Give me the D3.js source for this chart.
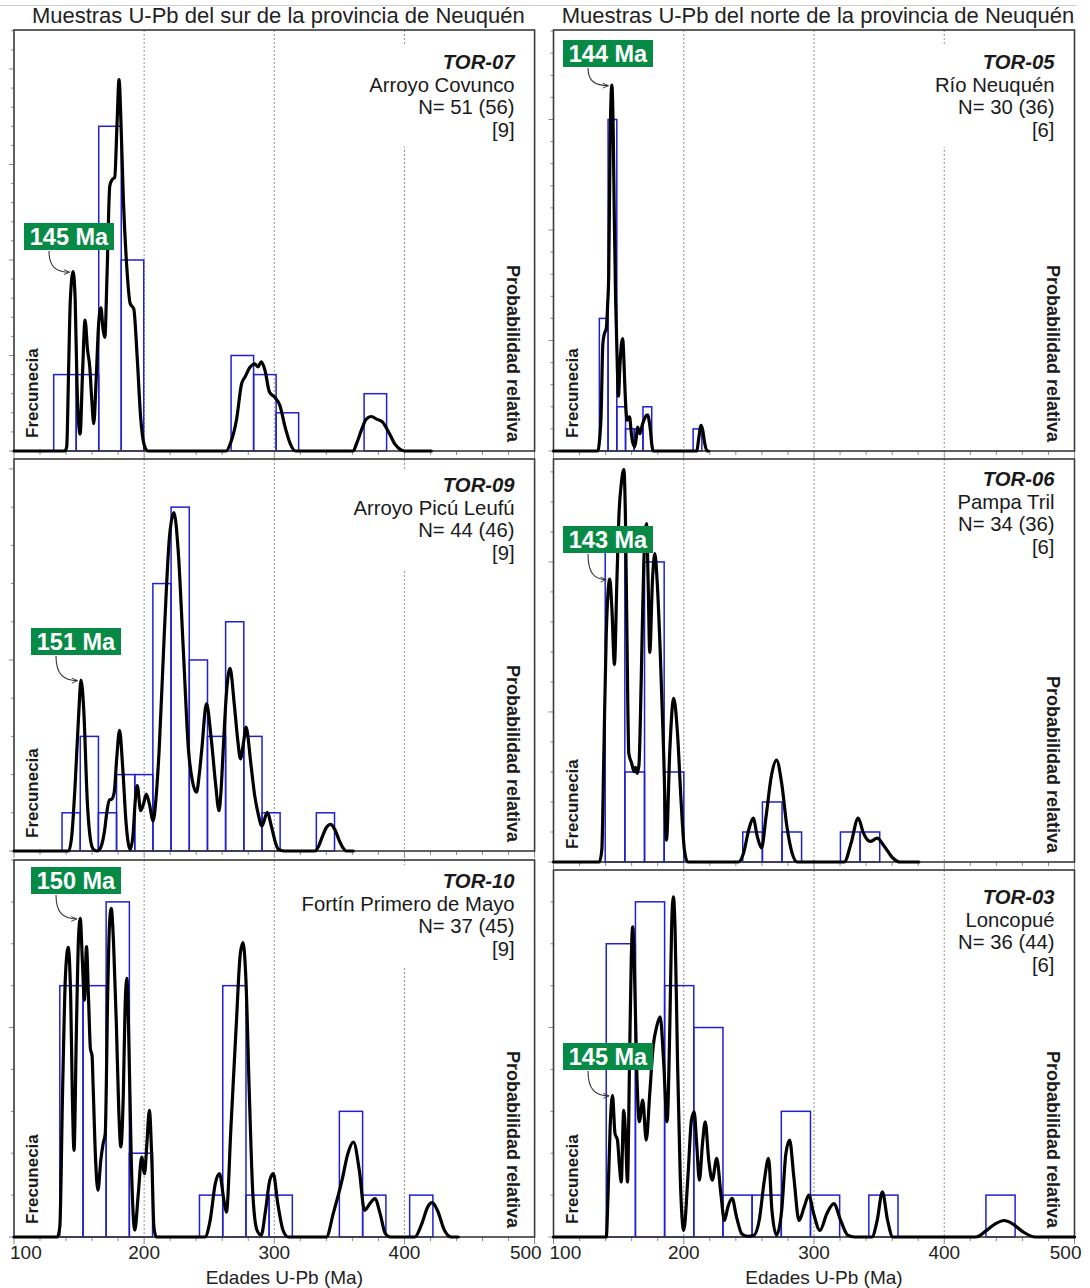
<!DOCTYPE html>
<html><head><meta charset="utf-8">
<script src="https://cdn.jsdelivr.net/npm/d3@7"></script>
<style>
body{margin:0;background:#fff}
svg{display:block}
text{font-family:"Liberation Sans",Arial,Helvetica,sans-serif}
</style>
</head><body>
<svg id="c" width="1090" height="1288"></svg>
<script>
// ---------------- DATA ----------------
const columnTitles = ["Muestras U-Pb del sur de la provincia de Neuquén", "Muestras U-Pb del norte de la provincia de Neuquén"];
const sampleIds = ["TOR-07", "TOR-05", "TOR-09", "TOR-06", "TOR-10", "TOR-03"];
const localities = ["Arroyo Covunco", "Río Neuquén", "Arroyo Picú Leufú", "Pampa Tril", "Fortín Primero de Mayo", "Loncopué"];
const nTexts = ["N= 51 (56)", "N= 30 (36)", "N= 44 (46)", "N= 34 (36)", "N= 37 (45)", "N= 36 (44)"];
const refTexts = ["[9]", "[6]", "[9]", "[6]", "[9]", "[6]"];
const peakAges = [145, 144, 151, 143, 150, 145];
const xTickValues = [100, 200, 300, 400, 500];
const gridAges = [200, 300, 400];
const xAxisTitle = "Edades U-Pb (Ma)";
const yLeftTitle = "Frecunecia";
const yRightTitle = "Probabilidad relativa";

// histogram bins (left edge in Ma), counts and bin width per sample
const tor07BinStart = [130.5, 147.8, 165.1, 182.4, 266.8, 284.1, 301.4, 369.0];
const tor07BinCount = [4, 4, 17, 10, 5, 4, 2, 3];
const tor05BinStart = [135.2, 141.9, 148.6, 155.3, 162.0, 168.7, 207.2];
const tor05BinCount = [6, 15, 2, 1, 1, 2, 1];
const tor09BinStart = [136.9, 150.9, 164.8, 178.8, 192.8, 206.7, 220.7, 234.7, 248.6, 262.6, 276.6, 290.5, 332.3];
const tor09BinCount = [1, 3, 1, 2, 2, 7, 9, 5, 3, 6, 3, 1, 1];
const tor06BinStart = [139.7, 154.8, 169.9, 185.0, 245.3, 260.4, 275.4, 320.3, 335.4];
const tor06BinCount = [11, 3, 10, 3, 1, 2, 1, 1, 1];
const tor10BinStart = [135.2, 153.0, 170.8, 188.6, 242.5, 260.4, 278.2, 296.0, 350.0, 367.9, 404.0];
const tor10BinCount = [6, 6, 8, 2, 1, 6, 1, 1, 3, 1, 1];
const tor03BinStart = [140.5, 162.9, 185.3, 207.7, 230.1, 252.5, 274.9, 297.3, 342.1, 432.0];
const tor03BinCount = [7, 8, 6, 5, 1, 1, 3, 1, 1, 1];
const binWidths = [17.3, 6.7, 13.97, 15.07, 17.85, 22.4];

// probability density curves: [age Ma, relative probability]
const tor07Curve = [[100,0],[139,0],[140.5,0.01],[142,0.2],[143.3,0.36],[145.4,0.426],[147,0.36],[148.4,0.16],[150.8,0.04],[152.6,0.18],[154.6,0.311],[156.5,0.24],[158.2,0.2],[159.6,0.13],[161.3,0.065],[163,0.16],[165,0.3],[166.8,0.34],[168.4,0.29],[169.8,0.27],[171.5,0.42],[173.6,0.63],[175.5,0.645],[177.4,0.65],[179.2,0.78],[180.7,0.882],[182.4,0.76],[184,0.6],[186.6,0.44],[189.3,0.35],[192,0.338],[194.7,0.22],[197.3,0.08],[200,0.015],[203,0],
[263,0],[266.5,0.02],[270.9,0.073],[274.9,0.16],[277.5,0.176],[281.6,0.2],[285,0.207],[287.4,0.2],[290.1,0.212],[292.8,0.192],[296.3,0.14],[300.3,0.128],[304.3,0.108],[308.3,0.057],[312.3,0.017],[316.3,0],
[360.5,0],[363.5,0.02],[367,0.05],[370.5,0.075],[374.5,0.082],[379,0.075],[383,0.069],[388.5,0.041],[393,0.015],[397,0.003],[400,0],[420.6,0]];
const tor05Curve = [[100,0],[134,0],[135.5,0.03],[136.5,0.081],[137.9,0.255],[139.2,0.28],[140.5,0.29],[141.6,0.35],[142.4,0.42],[143.4,0.72],[144.8,0.869],[145.9,0.75],[146.7,0.55],[147.7,0.36],[149,0.2],[149.9,0.13],[150.8,0.19],[152,0.25],[153.1,0.267],[154,0.22],[154.7,0.16],[155.6,0.1],[156.5,0.073],[157.5,0.08],[158.4,0.081],[159.5,0.05],[160.5,0.025],[162.3,0.01],[163.5,0.03],[164.5,0.057],[165.5,0.05],[166.4,0.041],[168,0.06],[169.9,0.077],[171.5,0.085],[172.5,0.085],[173.5,0.07],[174.4,0.05],[175.5,0.015],[176.5,0],
[210,0],[211.5,0.03],[213.3,0.061],[214.5,0.05],[216,0.02],[217.9,0],[219,0]];
const tor09Curve = [[100,0],[142,0],[144.5,0.043],[147,0.171],[149.6,0.342],[151.5,0.436],[153.6,0.359],[156.3,0.128],[158.9,0.026],[161,0.004],[163.5,0],[165.5,0.003],[167.5,0.017],[169.5,0.05],[171.5,0.103],[173.3,0.13],[175,0.132],[177,0.15],[179,0.24],[181.1,0.308],[183.5,0.214],[186.2,0.068],[189.3,0.004],[191.5,0.043],[193.2,0.13],[194.7,0.167],[197.3,0.103],[199.5,0.12],[201.6,0.145],[204,0.12],[206.9,0.077],[209,0.13],[211.5,0.256],[215.5,0.556],[219.5,0.803],[222.9,0.863],[226.1,0.769],[230.1,0.513],[234.1,0.256],[237,0.18],[240.2,0.15],[242.5,0.2],[244.2,0.256],[247.9,0.376],[251.4,0.291],[254.9,0.171],[257.5,0.103],[259,0.15],[260.7,0.256],[263.4,0.41],[266,0.466],[269.2,0.376],[272,0.28],[274,0.235],[276.5,0.28],[278.3,0.316],[282,0.222],[285,0.14],[287.4,0.098],[290.5,0.064],[294.5,0.098],[298,0.06],[301,0.02],[303.3,0.004],[307.3,0],
[331.3,0],[334,0.012],[336.6,0.034],[340,0.06],[343.3,0.068],[346.5,0.055],[350,0.026],[353,0.007],[355.3,0],[360.7,0]];
const tor06Curve = [[100,0],[135.2,0],[137.1,0.03],[138.7,0.278],[140.5,0.566],[143.2,0.702],[144.8,0.63],[146.8,0.49],[148.6,0.69],[150.4,0.871],[152,0.937],[154,0.974],[155.2,0.86],[156.4,0.56],[157.8,0.27],[160,0.245],[161.9,0.224],[163,0.235],[164.2,0.22],[165.6,0.24],[167.4,0.46],[169.3,0.74],[171.4,0.84],[172.7,0.69],[173.9,0.52],[176,0.7],[177.8,0.765],[179.7,0.69],[181.9,0.525],[184.5,0.278],[186.7,0.054],[189.3,0.278],[192.3,0.406],[195.2,0.319],[197.9,0.154],[200.5,0.03],[203,0],
[241.9,0],[245.9,0.022],[249.9,0.08],[253.3,0.109],[256.5,0.063],[259.7,0.035],[263.2,0.113],[267.2,0.212],[271.2,0.253],[275.2,0.195],[279.2,0.088],[283.2,0.022],[287.2,0],
[323.2,0],[328.5,0.047],[333.9,0.109],[337.9,0.072],[343.2,0.051],[348.5,0.059],[353.9,0.039],[360.5,0.01],[365.9,0],[380.5,0]];
const tor10Curve = [[100,0],[133.3,0],[135.2,0.027],[137.3,0.381],[139.5,0.69],[141.6,0.768],[143.5,0.646],[144.8,0.381],[146.1,0.23],[148,0.558],[149.6,0.796],[150.9,0.845],[152.5,0.735],[154.1,0.628],[155.7,0.77],[157.3,0.628],[158.7,0.5],[160,0.48],[160.8,0.4],[162.7,0.204],[164.5,0.124],[166.7,0.204],[168.5,0.248],[170.1,0.274],[172,0.646],[173.3,0.823],[174.7,0.872],[176.5,0.779],[178.7,0.558],[180.5,0.336],[182.1,0.239],[184,0.381],[185.3,0.602],[186.7,0.686],[188,0.558],[190.1,0.204],[192.8,0.018],[195.5,0.115],[198.1,0.212],[200.3,0.168],[202.1,0.248],[204,0.336],[205.9,0.204],[207.5,0.027],[209.3,0],
[246.7,0],[250.7,0.044],[254.7,0.142],[257.9,0.168],[261.3,0.097],[263.2,0.066],[266.7,0.292],[270.7,0.558],[273.9,0.752],[276,0.781],[278.1,0.69],[280.8,0.381],[283.5,0.115],[286.7,0.018],[289.9,0.005],[293.3,0.071],[296.5,0.15],[299.2,0.168],[302.7,0.088],[306.7,0.018],[310.7,0],
[340,0],[345.3,0.062],[352,0.15],[356.5,0.221],[360.8,0.252],[365.3,0.177],[369.3,0.071],[373.3,0.088],[377.3,0.102],[381.3,0.062],[385.3,0.009],[389.3,0],
[408,0],[413.3,0.035],[417.9,0.08],[421.3,0.091],[425.3,0.071],[430.7,0.018],[436,0],[441.3,0]];
const tor03Curve = [[100,0],[140.5,0],[141.9,0.118],[143.5,0.3],[145.3,0.386],[147.2,0.282],[149.1,0.264],[150.7,0.191],[152,0.15],[153.9,0.345],[155.3,0.28],[156.8,0.15],[158.4,0.482],[159.7,0.755],[160.8,0.845],[162.1,0.736],[163.7,0.482],[165.9,0.314],[168.5,0.373],[171.2,0.264],[173.9,0.391],[176.5,0.518],[179.2,0.573],[181.9,0.6],[184.5,0.482],[187.2,0.314],[189.3,0.573],[190.7,0.845],[192,0.927],[193.3,0.845],[195.2,0.482],[197.3,0.164],[200,0.018],[203.2,0.164],[205.9,0.318],[208,0.341],[209.9,0.255],[212,0.155],[214.4,0.255],[216.5,0.314],[219.2,0.209],[221.9,0.155],[225.3,0.214],[228.5,0.118],[231.2,0.045],[233.9,0.082],[237.1,0.105],[240.5,0.055],[244.5,0.009],[249,0.002],[253.9,0.005],[257.9,0.045],[261.9,0.155],[265.1,0.214],[267.7,0.073],[271.2,0.005],[275.2,0.073],[278.4,0.227],[281.3,0.264],[284.5,0.164],[288.5,0.045],[292.5,0.082],[296,0.114],[299.7,0.064],[304.5,0.018],[309.9,0.064],[315.2,0.091],[320.5,0.045],[325.9,0.005],[331.2,0],
[344.5,0],[348.5,0.045],[352.5,0.123],[356.5,0.045],[360.5,0],
[424.5,0],[432.5,0.018],[439.2,0.036],[445.9,0.045],[452.5,0.036],[460.5,0.014],[469.9,0],[500,0]];

const binStarts = [tor07BinStart, tor05BinStart, tor09BinStart, tor06BinStart, tor10BinStart, tor03BinStart];
const binCounts = [tor07BinCount, tor05BinCount, tor09BinCount, tor06BinCount, tor10BinCount, tor03BinCount];
const curves = [tor07Curve, tor05Curve, tor09Curve, tor06Curve, tor10Curve, tor03Curve];

// ---------------- LAYOUT ----------------
const L = {x0: 14, x1: 534.6};
const R = {x0: 553.5, x1: 1074.5};
const panels = [
  {c: L, top: 30,  base: 451,  yMax: 22.04, textY: 62,  boxX: 24,  boxY: 223, xlabels: false},
  {c: R, top: 30,  base: 451,  yMax: 19.05, textY: 62,  boxX: 563, boxY: 40,  xlabels: false},
  {c: L, top: 459, base: 851,  yMax: 10.26, textY: 485, boxX: 31,  boxY: 628, xlabels: false},
  {c: R, top: 459, base: 862,  yMax: 13.43, textY: 479, boxX: 563, boxY: 526, xlabels: false},
  {c: L, top: 860, base: 1237, yMax: 9.0,   textY: 881, boxX: 31,  boxY: 867, xlabels: true},
  {c: R, top: 870, base: 1237, yMax: 8.76,  textY: 897, boxX: 563, boxY: 1043, xlabels: true}
];

const BLUE = "#2020d0", GREEN = "#078a45", FRAME = "#3a3a3a", TICK = "#8a8a8a";
const svg = d3.select("#c");

const defs = svg.append("defs");
defs.append("marker").attr("id", "ah").attr("viewBox", "0 0 10 10").attr("refX", 9).attr("refY", 5)
  .attr("markerWidth", 7).attr("markerHeight", 7).attr("orient", "auto").attr("markerUnits", "userSpaceOnUse")
  .append("path").attr("d", "M1,1.5 L9,5 L1,8.5").attr("fill", "none").attr("stroke", "#333").attr("stroke-width", 1.3);

// faint top line
svg.append("line").attr("x1", 0).attr("x2", 1077).attr("y1", 5.5).attr("y2", 5.5).attr("stroke", "#cfcfcf").attr("stroke-width", 1);

// column titles
[L, R].forEach((c, i) => {
  svg.append("text").attr("x", (c.x0 + c.x1) / 2 + 4).attr("y", 23).attr("text-anchor", "middle")
    .attr("font-size", 22).attr("fill", "#222").text(columnTitles[i]);
});

panels.forEach((p, i) => {
  const c = p.c;
  const x = d3.scaleLinear().domain([100, 500]).range([c.x0, c.x1]);
  const yF = d3.scaleLinear().domain([0, p.yMax]).range([p.base, p.top]);
  const yP = d3.scaleLinear().domain([0, 1]).range([p.base, p.top]);
  const g = svg.append("g");

  // left ticks (frequency)
  const yT = d3.range(0, Math.floor(p.yMax) + 1);
  g.selectAll(".yt").data(yT).join("line")
    .attr("x1", d => c.x0 - (d % 5 === 0 ? 5 : 3)).attr("x2", c.x0)
    .attr("y1", d => yF(d)).attr("y2", d => yF(d)).attr("stroke", TICK).attr("stroke-width", 1);

  // bottom ticks
  const xT = d3.range(100, 501, 20);
  g.selectAll(".xt").data(xT).join("line")
    .attr("x1", d => x(d)).attr("x2", d => x(d))
    .attr("y1", p.base).attr("y2", d => p.base + (d % 100 === 0 ? 7 : 4))
    .attr("stroke", TICK).attr("stroke-width", 1);

  // grid dashed lines
  g.selectAll(".grid").data(gridAges).join("line")
    .attr("x1", d => x(d)).attr("x2", d => x(d)).attr("y1", p.top).attr("y2", p.base)
    .attr("stroke", "#777").attr("stroke-width", 0.8).attr("stroke-dasharray", "2,2");

  // text block with white background
  const tb = g.append("g");
  const lines = [sampleIds[i], localities[i], nTexts[i], refTexts[i]];
  const tx = c.x1 - 20;
  const texts = tb.selectAll("text").data(lines).join("text")
    .attr("x", tx).attr("y", (d, k) => p.textY + 7 + k * 22.7)
    .attr("text-anchor", "end").attr("font-size", 20.3).attr("fill", "#1a1a1a")
    .attr("font-weight", (d, k) => k === 0 ? "bold" : "normal")
    .attr("font-style", (d, k) => k === 0 ? "italic" : "normal")
    .text(d => d);
  let minX = tx;
  texts.each(function () { const b = this.getBBox(); minX = Math.min(minX, b.x); });
  tb.insert("rect", "text").attr("x", minX - 4).attr("y", p.textY - 16)
    .attr("width", c.x1 - 3 - (minX - 4)).attr("height", 3 * 22.7 + 33).attr("fill", "#fff");

  // histogram
  const bw = binWidths[i];
  const bins = binStarts[i].map((s, k) => ({s: s, n: binCounts[i][k]}));
  g.selectAll(".bar").data(bins).join("rect")
    .attr("x", d => x(d.s)).attr("width", d => x(d.s + bw) - x(d.s))
    .attr("y", d => yF(d.n)).attr("height", d => p.base - yF(d.n))
    .attr("fill", "none").attr("stroke", BLUE).attr("stroke-width", 1.5);

  // frame
  g.append("rect").attr("x", c.x0).attr("y", p.top).attr("width", c.x1 - c.x0).attr("height", p.base - p.top)
    .attr("fill", "none").attr("stroke", FRAME).attr("stroke-width", 1.6);

  // probability curve
  const line = d3.line().x(d => x(d[0])).y(d => yP(d[1])).curve(d3.curveMonotoneX);
  g.append("path").datum(curves[i]).attr("d", line).attr("fill", "none")
    .attr("stroke", "#000").attr("stroke-width", 3.2).attr("stroke-linejoin", "round").attr("stroke-linecap", "round");

  // axis side titles
  g.append("text").attr("transform", `translate(${c.x0 + 24},${p.base - 13}) rotate(-90)`)
    .attr("font-size", 17).attr("font-weight", "bold").attr("fill", "#1a1a1a").text(yLeftTitle);
  g.append("text").attr("transform", `translate(${c.x1 - 28},${p.base - 9}) rotate(90)`)
    .attr("text-anchor", "end").attr("font-size", 18).attr("font-weight", "bold").attr("fill", "#1a1a1a").text(yRightTitle);

  // peak annotation
  const age = peakAges[i];
  const near = curves[i].filter(d => Math.abs(d[0] - age) <= 3);
  const pk = near.reduce((a, b) => b[1] > a[1] ? b : a, near[0]);
  const txp = x(pk[0]) - 3.5, typ = yP(pk[1]) + 0.5;
  const sx = p.boxX + 25, sy = p.boxY + 28;
  g.append("path")
    .attr("d", `M${sx},${sy} C${sx},${sy + (typ - sy) * 0.75} ${sx + (txp - sx) * 0.35},${typ} ${txp},${typ}`)
    .attr("fill", "none").attr("stroke", "#333").attr("stroke-width", 1.1).attr("marker-end", "url(#ah)");
  g.append("rect").attr("x", p.boxX).attr("y", p.boxY).attr("width", 90).attr("height", 27).attr("fill", GREEN);
  g.append("text").attr("x", p.boxX + 45).attr("y", p.boxY + 22).attr("text-anchor", "middle")
    .attr("font-size", 23.5).attr("font-weight", "bold").attr("fill", "#fff").text(age + " Ma");

  // x labels
  if (p.xlabels) {
    g.selectAll(".xl").data(xTickValues).join("text")
      .attr("x", d => d === 100 ? x(d) - 4 : d === 500 ? x(d) + 7 : x(d))
      .attr("y", p.base + 22)
      .attr("text-anchor", d => d === 100 ? "start" : d === 500 ? "end" : "middle")
      .attr("font-size", 19).attr("fill", "#222").text(d => d);
    g.append("text").attr("x", (c.x0 + c.x1) / 2 + 10).attr("y", p.base + 47).attr("text-anchor", "middle")
      .attr("font-size", 19).attr("fill", "#222").text(xAxisTitle);
  }
});
</script>
</body></html>
